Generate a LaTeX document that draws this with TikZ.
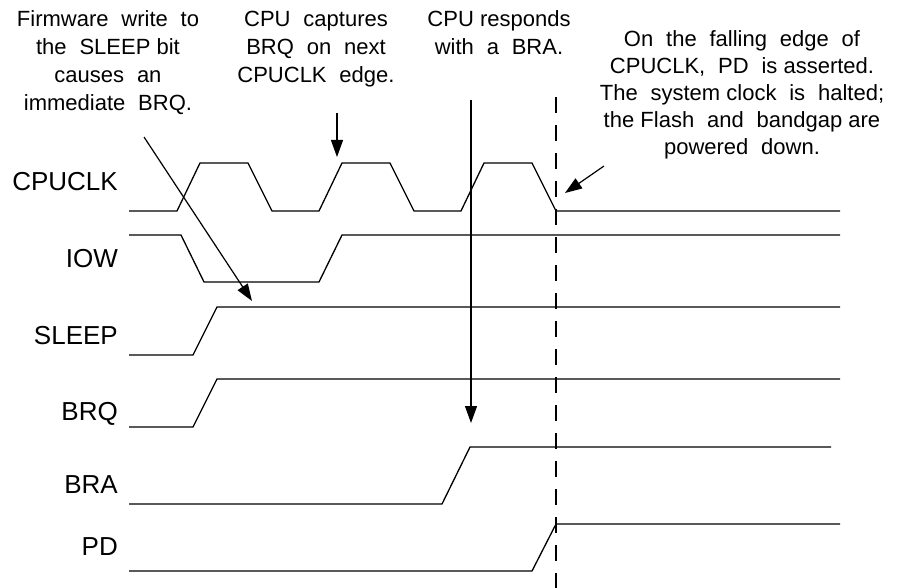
\documentclass[tikz,border=0pt]{standalone}
\usepackage{fontspec}
\setmainfont{Liberation Sans}
\newfontfamily\notefont[WordSpace=2.1]{Liberation Sans}
\newcommand{\tsp}{\hspace{0.28em}}
\usetikzlibrary{arrows.meta}
\tikzset{
  wave/.style={line width=1.3pt},
  pointer/.style={line width=1.2pt,-{Triangle[length=17pt,width=12pt]}},
  halt/.style={line width=2pt,dash pattern=on 16pt off 12pt},
  sig/.style={anchor=base east,inner sep=0pt,font=\fontsize{26}{30}\selectfont},
  note/.style={anchor=base,inner sep=0pt,align=center,font=\notefont\fontsize{22}{28}\selectfont}
}
\begin{document}
\begin{tikzpicture}[x=1pt,y=-1pt]
\useasboundingbox (0,0) rectangle (899,588);
\node[sig] (clk) at (118,191) {CPUCLK};
\node[sig] (iow) at (118,267) {IOW};
\node[sig] (sleep) at (118,344) {SLEEP};
\node[sig] (brq) at (118,420) {BRQ};
\node[sig] (bra) at (118,493) {BRA};
\node[sig] (pd) at (118,555) {PD};
\draw[wave] (129,211) foreach \r in {177,319,461} { -- (\r,211) -- (\r+23,163) -- (\r+71,163) -- (\r+95,211) } -- (840,211);
\draw[wave] (129,235) -- (181,235) -- (204,282) -- (319,282) -- (342,235) -- (840,235);
\draw[wave] (129,355) -- (193,355) -- (217,307) -- (840,307);
\draw[wave] (129,427) -- (193,427) -- (217,379) -- (840,379);
\draw[wave] (129,504) -- (442,504) -- (470,447) -- (831,447);
\draw[wave] (129,571) -- (532,571) -- (556,524) -- (840,524);
% base anchor sits on the last line
\node[note] (fwnote) at (108,111) {Firmware write to\\the SLEEP\tsp bit\\causes an\\immediate BRQ.};
\node[note] (capnote) at (316,83) {CPU captures\\BRQ on next\\CPUCLK edge.};
\node[note] (branote) at (499,55) {CPU\tsp responds\\with a BRA.};
\node[note,font=\notefont\fontsize{22}{27}\selectfont] (pdnote) at (742,155) {On the falling edge of\\CPUCLK, PD is\tsp asserted.\\The system\tsp clock is halted;\\the\tsp Flash and bandgap\tsp are\\powered down.};
\coordinate (fwtail) at (144,137);
\coordinate (fwtip) at (252,301);
\coordinate (captail) at (337,113);
\coordinate (captip) at (337,157);
\coordinate (bratail) at (471,100);
\coordinate (bratip) at (471,423);
\coordinate (pdtail) at (604,166);
\coordinate (pdtip) at (565,193);
\coordinate (haltT) at (556,97);
\coordinate (haltB) at (556,588);
\draw[pointer] (fwtail) -- (fwtip);
\draw[pointer] (captail) -- (captip);
\draw[pointer] (bratail) -- (bratip);
\draw[pointer] (pdtail) -- (pdtip);
\draw[halt] (haltT) -- (haltB);
\end{tikzpicture}
\end{document}
